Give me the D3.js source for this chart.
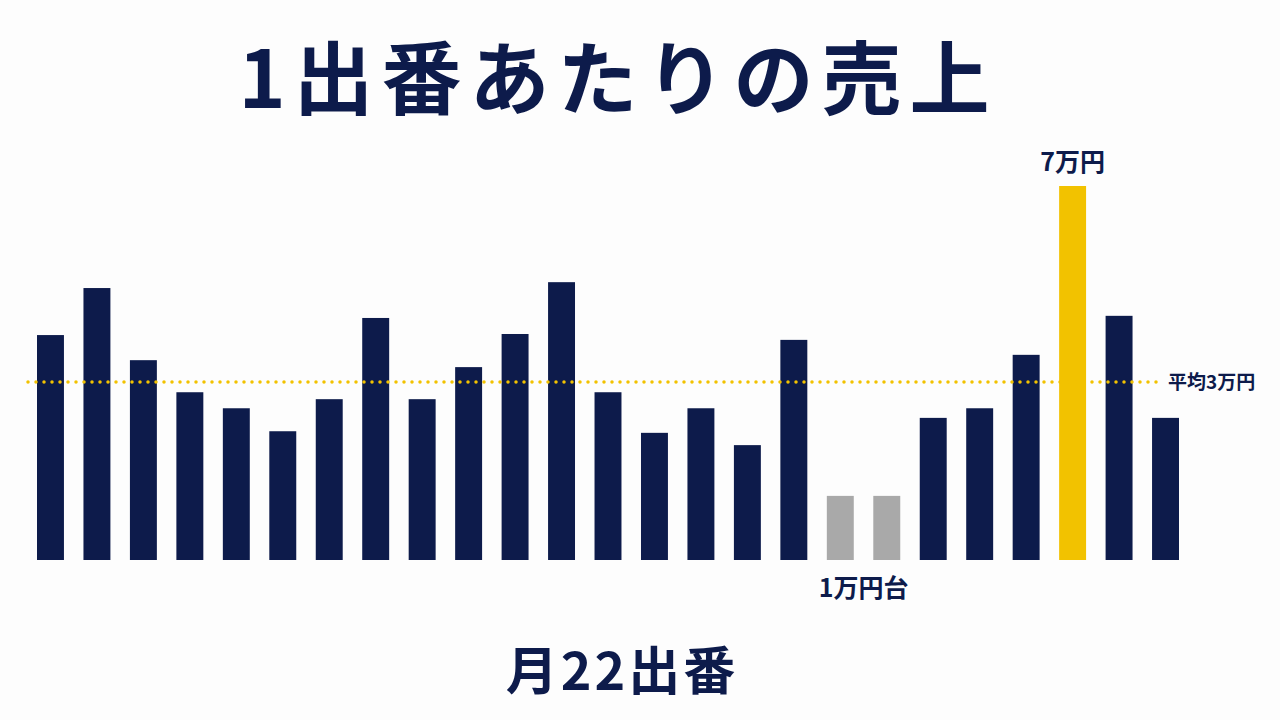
<!DOCTYPE html>
<html><head><meta charset="utf-8">
<script src="https://cdn.jsdelivr.net/npm/d3@7"></script>
<style>body{margin:0;background:#fdfdfd}svg{display:block}text{font-family:"Noto Sans CJK JP",sans-serif;font-weight:700;fill:#0d1b4b}</style>
</head><body>
<script>
const categories = d3.range(1, 26).map(String);
const values = [4.21,5.09,3.74,3.14,2.84,2.41,3.01,4.53,3.01,3.61,4.23,5.20,3.14,2.38,2.84,2.15,4.12,1.20,1.20,2.66,2.84,3.84,7.0,4.57,2.66];
const kinds = ["n","n","n","n","n","n","n","n","n","n","n","n","n","n","n","n","n","g","g","n","n","n","y","n","n"];
const averageValue = 3.33;
const title = "1出番あたりの売上";
const bottomLabel = "月22出番";

const W=1280,H=720;
const svg=d3.select("body").append("svg").attr("width",W).attr("height",H);
svg.append("rect").attr("width",W).attr("height",H).attr("fill","#fdfdfd");
const x=d3.scaleBand().domain(categories).range([37,1179]).paddingInner(0.42).paddingOuter(0);
const y=d3.scaleLinear().domain([0,7]).range([560,186]);
const col={n:"#0d1b4b",g:"#a9a9a9",y:"#f2c200"};
svg.selectAll("rect.bar").data(values).join("rect").attr("class","bar")
 .attr("x",(d,i)=>x(categories[i])).attr("width",x.bandwidth())
 .attr("y",d=>y(d)).attr("height",d=>y(0)-y(d)).attr("fill",(d,i)=>col[kinds[i]]);
svg.append("line").attr("x1",28).attr("x2",1158).attr("y1",y(averageValue)).attr("y2",y(averageValue))
 .attr("stroke","#f2c200").attr("stroke-width",3.5).attr("stroke-linecap","round").attr("stroke-dasharray","0 8");
svg.append("text").attr("x",1168).attr("y",y(averageValue)+7).attr("font-size",19).text("平均3万円");
const iy=kinds.indexOf("y");
svg.append("text").attr("x",x(categories[iy])+x.bandwidth()/2).attr("y",y(values[iy])-15).attr("text-anchor","middle").attr("font-size",25).text("7万円");
const g0=kinds.indexOf("g");
svg.append("text").attr("x",(x(categories[g0])+x(categories[g0+1])+x.bandwidth())/2).attr("y",597).attr("text-anchor","middle").attr("font-size",25).text("1万円台");
svg.append("text").attr("x",618).attr("y",108).attr("text-anchor","middle").attr("font-size",80).attr("letter-spacing",8).text(title);
svg.append("text").attr("x",622).attr("y",690).attr("text-anchor","middle").attr("font-size",52).attr("letter-spacing",3).text(bottomLabel);
</script></body></html>
